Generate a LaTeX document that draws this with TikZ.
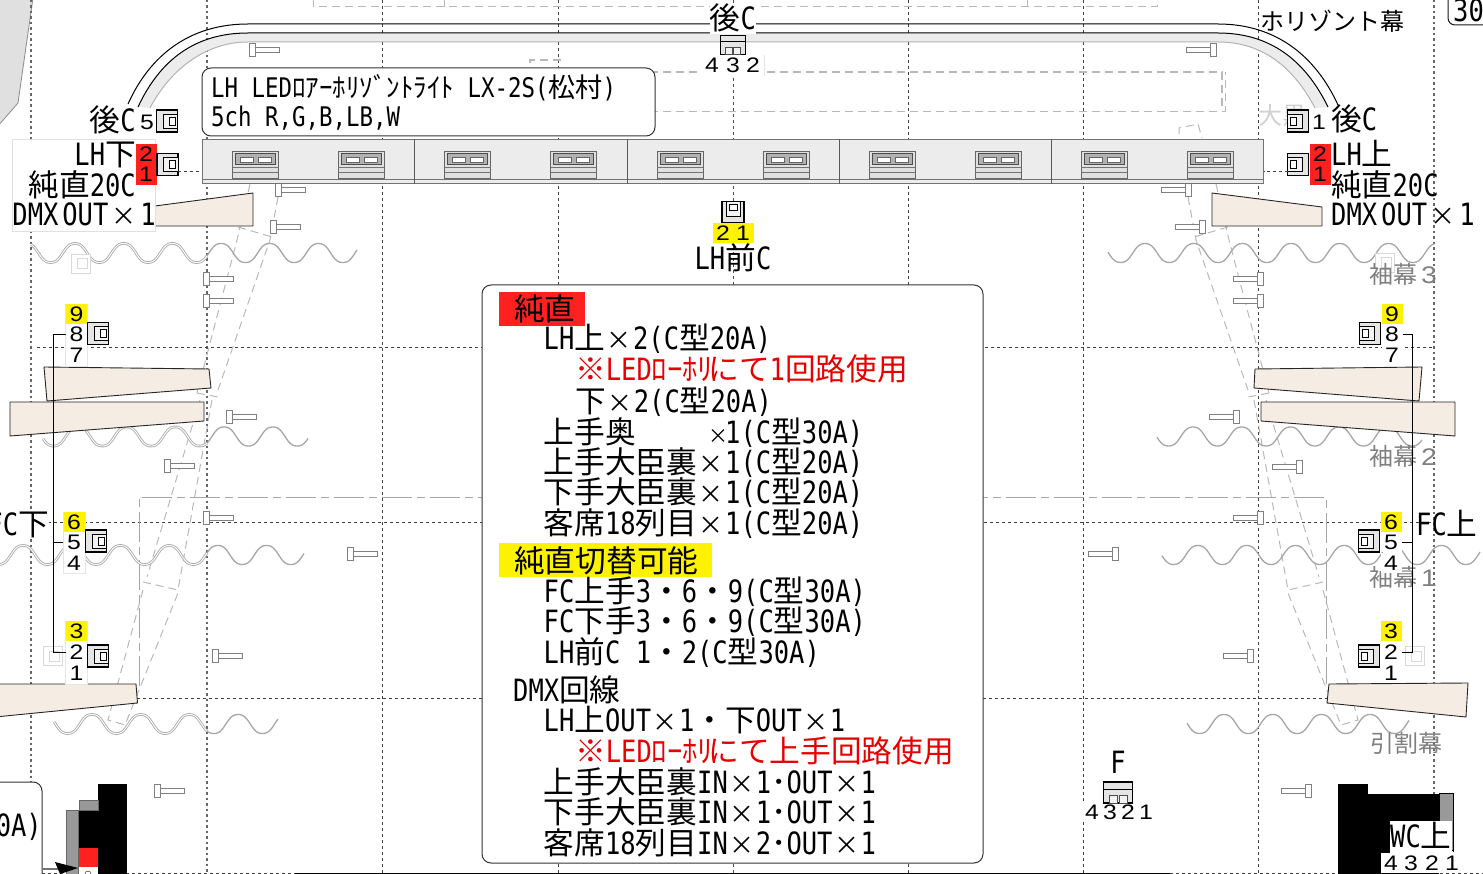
\documentclass[tikz,border=0pt]{standalone}
\usepackage{fontspec}
\newfontfamily\cjk{Noto Sans CJK JP}
\newfontfamily\lat[FakeStretch=0.83]{DejaVu Sans Mono}
\newfontfamily\num[FakeStretch=1.18]{Liberation Sans}
\newcommand{\La}[1]{{\lat #1}}
\newcommand{\X}{\makebox[28pt]{\fontsize{25}{25}\selectfont ×}}
\definecolor{beige}{HTML}{F5EDE4}
\definecolor{redbox}{HTML}{FF2020}
\definecolor{redtext}{HTML}{E60000}
\definecolor{barfill}{HTML}{ECECEC}
% one row of the stage curtains
\newcommand{\curtain}[5]{\draw[#1] plot[domain=#2:#3,samples=150] (\x,{#4-10.1*(cos((\x-#5)*7.392)-0.06*cos((\x-#5)*22.176))});}
\tikzset{
  griddash/.style={draw=black!75,line width=0.9pt,dash pattern=on 3pt off 3pt},
  griddot/.style={draw=black!60,line width=1.3pt,dash pattern=on 2.5pt off 3pt},
  wingdash/.style={draw=black!28,line width=1pt,dash pattern=on 8pt off 5pt},
  curtainline/.style={draw=black!35,line width=1.3pt},
  curtaindouble/.style={draw=black!32,line width=0.9pt,double=white,double distance=0.9pt},
  flat/.style={fill=beige,draw=black!85,line width=0.9pt,line join=round},
  roundbox/.style={draw=black!80,fill=white,line width=1pt,rounded corners=9pt,inner sep=0pt},
  big/.style={font=\fontsize{30.7}{31}\selectfont\cjk,inner sep=0pt,text height=26pt,text depth=4pt},
  mid/.style={font=\fontsize{27}{27}\selectfont\cjk,inner sep=0pt,text height=23pt,text depth=4pt},
  graytext/.style={font=\fontsize{24}{24}\selectfont\cjk,inner sep=0pt,text=black!50},
  digit/.style={font=\fontsize{21}{21}\selectfont\num,inner sep=0pt,text height=15pt,text depth=0pt,minimum width=21pt,minimum height=20.5pt,fill=white},
  yellowdigit/.style={digit,fill=yellow},
  reddigit/.style={digit,fill=redbox},
  numback/.style={fill=white,draw=black!10,line width=0.8pt},
  fixture/.pic={
    \draw[fill=black!10,line width=1.2pt] (-10.5,-11) rectangle (10.5,11);
    \draw[fill=black!5,line width=0.8pt] (-4,-7) rectangle (10.5,7);
    \draw[fill=white,line width=0.6pt] (2,-4) rectangle (8,4);
  },
  fourfix/.pic={
    \draw[fill=black!10,line width=1.2pt] (-14.5,-10.5) rectangle (14.5,10.5);
    \draw[line width=0.8pt] (-14.5,-3.5) -- (14.5,-3.5);
    \draw[draw=black!70,fill=black!5,line width=0.8pt] (-9,3) rectangle (-1,10.5);
    \draw[draw=black!70,fill=black!5,line width=0.8pt] (1,3) rectangle (9,10.5);
  },
  faintfix/.pic={
    \draw[draw=black!15,fill=white,line width=1.2pt] (-9.5,-9.5) rectangle (9.5,9.5);
    \draw[draw=black!15,line width=1pt] (-4,-5) rectangle (6,5);
  },
  ledunit/.pic={
    \draw[draw=black!60,fill=black!12,line width=0.9pt] (-23,-13.5) rectangle (23,13.5);
    \draw[draw=black!70,fill=black!30,line width=0.7pt] (-20,-11) rectangle (20,0);
    \draw[draw=black!60,fill=white,line width=0.6pt] (-15,-7.5) rectangle (-2,-2.5);
    \draw[draw=black!60,fill=white,line width=0.6pt] (3,-7.5) rectangle (16,-2.5);
    \draw[draw=black!55,line width=0.8pt] (-23,3) -- (23,3) (-23,7.5) -- (23,7.5);
  },
  bolt/.pic={
    \draw[draw=black!50,fill=white,line width=0.9pt] (0,-6.5) rectangle (6,6.5);
    \draw[draw=black!50,fill=white,line width=0.9pt] (6,-2.5) rectangle (30,2.5);
  },
  wings/.pic={
    \draw[wingdash] (250,184) -- (237,240) -- (197,393);
    \draw[wingdash] (278,197) -- (270,240) -- (218,390);
    \draw[wingdash] (238,227) -- (272,237);
    \draw[wingdash] (197,393) -- (218,397);
    \draw[wingdash] (200,400) -- (147,577);
    \draw[wingdash] (212,400) -- (178,590);
    \draw[wingdash] (143,582) -- (178,590);
    \draw[wingdash] (143,590) -- (108,720) -- (125,725) -- (178,593);
  },
}

\begin{document}
\begin{tikzpicture}[x=1pt,y=-1pt]
  \useasboundingbox (0,0) rectangle (1483,874);
  \clip (0,0) rectangle (1483,874);

  % wall in the top corner
  \draw[draw=black!45,fill=black!12,line width=0.8pt] (-2,-2) -- (33,-2) -- (18,103) -- (-2,126) -- cycle;

  % grid of the stage plan
  \foreach \x in {31,207,1434}
    \draw[griddot] (\x,0) -- (\x,874);
  \foreach \x in {382,558,908,1083,1258}
    \draw[griddash] (\x,0) -- (\x,874);
  \draw[griddash,draw=red] (733,0) -- (733,874);
  \draw[griddash] (37,347) -- (1434,347);
  \draw[griddash] (0,522) -- (1434,522);
  \draw[griddash] (137,698) -- (1330,698);
  \draw[griddash] (0,873) -- (1483,873);
  \draw[black,line width=1.5pt] (295,873.5) -- (1170,873.5);

  % dashed outlines behind the bar
  \draw[wingdash] (313,0) -- (313,7) -- (1157,7) -- (1157,0);
  \draw[wingdash] (444,0) -- (444,7) (1027,0) -- (1027,7);
  \draw[wingdash,line width=1.4pt] (530,63) -- (530,60) -- (561,60) -- (561,63);
  \draw[wingdash,line width=1.4pt] (650,72) -- (1222,72) -- (1222,111);
  \draw[wingdash,line width=0.8pt] (650,111) -- (1225,111) -- (1225,72);
  \draw[wingdash] (1179,134) -- (1179,128) -- (1198,124) -- (1202,138);
  \pic at (0,0) {wings};
  \pic[xscale=-1] at (1466,0) {wings};
  \draw[draw=black!35,line width=1pt,dash pattern=on 30pt off 5pt on 8pt off 5pt] (139,686) -- (139,497) -- (1326,497) -- (1326,684);

  % horizont rail
  \fill[barfill] (138,107) .. controls (160,60) and (195,33) .. (248,33) -- (1218,33) .. controls (1270,33) and (1305,60) .. (1328,107) -- (1315,108) .. controls (1295,70) and (1265,42) .. (1218,42) -- (248,42) .. controls (205,42) and (170,70) .. (150,108) -- cycle;
  \draw[draw=black!30,line width=1pt] (150,108) .. controls (170,70) and (205,42) .. (248,42) -- (1218,42) .. controls (1265,42) and (1295,70) .. (1315,108);
  \draw[black,line width=1pt] (128,104) .. controls (150,55) and (190,24) .. (248,24) -- (1218,24) .. controls (1275,24) and (1315,55) .. (1338,105);
  \draw[black,line width=1pt] (138,107) .. controls (160,60) and (195,33) .. (248,33) -- (1218,33) .. controls (1270,33) and (1305,60) .. (1328,107);

  % curtains
  \curtain{curtaindouble}{31}{207}{253}{75}
  \curtain{curtainline}{207}{357}{253}{75}
  \curtain{curtainline}{1108}{1434}{253}{1145}
  \curtain{curtaindouble}{43}{207}{436.5}{78}
  \curtain{curtainline}{207}{308}{436.5}{78}
  \curtain{curtainline}{1157}{1422}{436.5}{1193}
  \curtain{curtaindouble}{0}{207}{555}{23}
  \curtain{curtainline}{207}{304}{555}{23}
  \curtain{curtainline}{1162}{1480}{555}{1198}
  \curtain{curtaindouble}{54}{207}{724}{92}
  \curtain{curtainline}{207}{278}{724}{92}
  \curtain{curtainline}{1187}{1409}{724}{1224}

  % bolts, head on the left
  \foreach \x/\y in {249/50,275/190,270/227,203/279,203/301,226/417,164/466,203/518,347/554,212/656,154/791}
    \pic at (\x,\y) {bolt};
  % bolts, head on the right
  \foreach \x/\y in {1216/50,1191/190,1205/227,1263/279,1263/301,1239/417,1302/467,1263/518,1118/554,1253/656,1311/791}
    \pic[xscale=-1] at (\x,\y) {bolt};

  \pic at (81,264) {faintfix};
  \pic at (53,656) {faintfix};
  \pic at (1415,656) {faintfix};
  \pic at (1385,263) {faintfix};

  % flats
  \draw[flat] (155,206) -- (253,193) -- (253,226) -- (155,226) -- cycle;
  \draw[flat] (1212,193) -- (1322,207) -- (1322,226) -- (1212,226) -- cycle;
  \draw[flat] (44,367) -- (209,369) -- (211,388) -- (47,401) -- cycle;
  \draw[flat] (10,402) -- (204,402) -- (204,421) -- (10,436) -- cycle;
  \draw[flat] (1255,369) -- (1422,367) -- (1419,401) -- (1254,388) -- cycle;
  \draw[flat] (1261,402) -- (1455,402) -- (1455,436) -- (1261,421) -- cycle;
  \draw[flat] (-5,684) -- (136,684) -- (137.5,703) -- (-5,717) -- cycle;
  \draw[flat] (1329,684) -- (1468,683) -- (1466,717) -- (1327,703) -- cycle;

  % LED bar
  \node[draw=black!55,fill=barfill,line width=1pt,minimum width=1061pt,minimum height=44.5pt,inner sep=0pt] (ledbar) at (732.5,161.75) {};
  \draw[black!55,line width=1pt] (202,180) -- (1263,180);
  \foreach \x in {414.5,627,839,1051}
    \draw[black!65,line width=1pt] (\x,139.5) -- (\x,184);
  \foreach \x in {255.5,361,467.5,573.5,680,786,892,998,1104,1210}
    \pic at (\x,164.5) {ledunit};

  % labels at the back
  \node[roundbox,minimum width=453pt,minimum height=68pt] (ledbox) at (428.5,102) {};
  \node[mid,anchor=west] (ledname) at (211,88) {\La{LH~LED}ﾛｱｰﾎﾘｿﾞﾝﾄﾗｲﾄ\La{~LX-2S(}松村\La{)}};
  \node[mid,anchor=west] (ledch) at (211,117) {\La{5ch~R,G,B,LB,W}};
  \node[big,fill=white] (backtop) at (733,19) {後\La{C}};
  \node[graytext,text=black!18,anchor=west] (blackcurtain) at (1258,115) {大黒};
  \node[font=\fontsize{24}{24}\selectfont\cjk,inner sep=0pt,anchor=west] (horizont) at (1260,21) {ホリゾント幕};
  \node[draw=black!90,line width=1pt,rounded corners=7pt,minimum width=50pt,minimum height=40pt] (boxthree) at (1473,5) {};
  \node[big,anchor=west] (threeh) at (1453,11) {\La{300}};

  % left labels
  \node[fill=white,draw=black!12,minimum width=143pt,minimum height=91.5pt,inner sep=0pt] (leftlabel) at (83.5,185.25) {};
  \node[big,anchor=east] (lhlow) at (136,155) {\La{LH}下};
  \node[big,anchor=east] (lhlowa) at (136,186) {純直\La{20C}};
  \node[big,anchor=east] (lhlowb) at (156,215) {\La{DMX}\hspace{4pt}\La{OUT}\hspace{2pt}\X\hspace{2pt}\La{1}};
  \node[big,fill=white,anchor=east] (backleft) at (136,121) {後\La{C}};
  \node[big,anchor=west] (lhup) at (1331,155) {\La{LH}上};
  \node[big,anchor=west] (lhupa) at (1331,186) {純直\La{20C}};
  \node[big,anchor=west] (lhupb) at (1331,215) {\La{DMX}\hspace{4pt}\La{OUT}\hspace{2pt}\X\hspace{2pt}\La{1}};
  \node[big,anchor=west] (backright) at (1331,120) {後\La{C}};
  \node[big,fill=white,anchor=east] (fclow) at (49,524) {\La{FC}下};
  \node[big,anchor=west] (fcup) at (1416,524) {\La{FC}上};
  \node[big] (lhfront) at (733,259) {\La{LH}前\La{C}};
  \node[big] (fname) at (1118,762) {\La{F}};

  % curtain names
  \node[graytext,anchor=west] (sleevethree) at (1369,274) {袖幕\,\num 3};
  \node[graytext,anchor=west] (sleevetwo) at (1369,456) {袖幕\,\num 2};
  \node[graytext,anchor=west] (sleeveone) at (1369,577) {袖幕\,\num 1};
  \node[graytext,anchor=west] (splitcurtain) at (1370,743) {引割幕};

  % circuit numbers
  \draw[numback] (702,55) rectangle (764,75.5);
  \draw[numback] (65.5,304) rectangle (87.5,366);
  \draw[numback] (63,512) rectangle (85,573);
  \draw[numback] (65.5,621) rectangle (87.5,684);
  \foreach \nm/\d/\x/\y in {b4/4/712/65.5,b3/3/733/65.5,b2/2/753/65.5,c5/5/147/122,c1/1/1319/122,
      L8/8/76.5/334.5,L7/7/76.5/355,L5/5/74/542,L4/4/74/562.5,L2/2/76.5/652,L1/1/76.5/673,
      R8/8/1392/334.5,R7/7/1392/355,R5/5/1391/542,R4/4/1391/563,R2/2/1391/652,R1/1/1391/673,
      f4/4/1092/812,f3/3/1110/812,f2/2/1128/812,f1/1/1146/812}
    \node[digit] (\nm) at (\x,\y) {\d};
  \foreach \nm/\d/\x/\y in {L9/9/76.5/314,L6/6/74/522,L3/3/76.5/631,R9/9/1392/314,R6/6/1391/522,R3/3/1391/631,fr2/2/723/233,fr1/1/743/233}
    \node[yellowdigit] (\nm) at (\x,\y) {\d};
  \foreach \nm/\d/\x/\y in {la2/2/146/154,la1/1/146/174.5,ra2/2/1320/154,ra1/1/1320/174.5}
    \node[reddigit] (\nm) at (\x,\y) {\d};

  % fixtures
  \pic at (167,121) {fixture};
  \pic at (167.5,164.5) {fixture};
  \pic at (98,333.5) {fixture};
  \pic at (96,541) {fixture};
  \pic at (98,656) {fixture};
  \pic[xscale=-1] at (1298,121) {fixture};
  \pic[xscale=-1] at (1298,164.5) {fixture};
  \pic[xscale=-1] at (1370,333.5) {fixture};
  \pic[xscale=-1] at (1369,541) {fixture};
  \pic[xscale=-1] at (1369,656) {fixture};
  \pic[yscale=0.9,xscale=0.85] at (733,45) {fourfix};
  \pic[rotate=90] at (733,212) {fixture};
  \pic at (1118,792.5) {fourfix};

  % fixture to bar
  \coordinate (lstub) at (178,171);
  \coordinate (rstub) at (1288,171);
  \draw[griddash] (lstub) -- (ledbar.west |- lstub);
  \draw[griddash] (rstub) -- (ledbar.east |- rstub);

  % FC bus on each side
  \coordinate (lbus) at (53.5,0);
  \coordinate (rbus) at (1412.5,0);
  \draw[black,line width=1pt] (L8.west) -- (L8.west -| lbus) -- (L2.west -| lbus) -- (L2.west);
  \draw[black,line width=1pt] (L5.west) -- (L5.west -| lbus);
  \draw[black,line width=1pt] (R8.east) -- (R8.east -| rbus) -- (R2.east -| rbus) -- (R2.east);
  \draw[black,line width=1pt] (R5.east) -- (R5.east -| rbus);

  % main list
  \node[roundbox,minimum width=501pt,minimum height=578pt] (mainbox) at (732.5,574) {};
  \node[fill=redbox,minimum width=86pt,minimum height=34pt,inner sep=0pt] (purehead) at (542,309) {};
  \node[big,anchor=west] (puretext) at (514,310) {純直};
  \node[fill=yellow,minimum width=213pt,minimum height=34pt,inner sep=0pt] (switchhead) at (605.5,560) {};
  \node[big,anchor=west] (switchtext) at (514,561) {純直切替可能};
  \foreach \nm/\x/\y/\txt in {
      a1/543.5/339/{\La{LH}上\X\La{2(C}型\La{20A)}},
      a3/575/401/{下\X\La{2(C}型\La{20A)}},
      a4/543.5/432/{上手奥　　\makebox[28pt]{\hspace{14pt}\fontsize{20}{20}\selectfont ×}\La{1(C}型\La{30A)}},
      a5/543.5/462/{上手大臣裏\X\La{1(C}型\La{20A)}},
      a6/543.5/492.5/{下手大臣裏\X\La{1(C}型\La{20A)}},
      a7/543.5/523/{客席\La{18}列目\X\La{1(C}型\La{20A)}},
      s1/543.5/591/{\La{FC}上手\La{3}・\La{6}・\La{9(C}型\La{30A)}},
      s2/543.5/621.5/{\La{FC}下手\La{3}・\La{6}・\La{9(C}型\La{30A)}},
      s3/543.5/652.5/{\La{LH}前\La{C~1}・\La{2(C}型\La{30A)}},
      d0/513/690/{\La{DMX}回線},
      d1/543.5/720/{\La{LH}上\La{OUT}\X\La{1}・下\La{OUT}\X\La{1}},
      d3/543.5/782/{上手大臣裏\La{IN}\X\La{1}･\La{OUT}\X\La{1}},
      d4/543.5/812/{下手大臣裏\La{IN}\X\La{1}･\La{OUT}\X\La{1}},
      d5/543.5/843/{客席\La{18}列目\La{IN}\X\La{2}･\La{OUT}\X\La{1}}}
    \node[big,anchor=west] (\nm) at (\x,\y) {\txt};
  \node[big,text=redtext,anchor=west] (a2) at (575,370) {※\La{LED}ﾛｰﾎﾘ\kern-5ptにて\La{1}回路使用};
  \node[big,text=redtext,anchor=west] (d2) at (575,751) {※\La{LED}ﾛｰﾎﾘ\kern-5ptにて上手回路使用};

  % bottom left stack
  \node[roundbox,minimum width=100pt,minimum height=130pt] (lowbox) at (-8,847) {};
  \node[big,anchor=east] (lowtext) at (42,825) {\La{20A)}};
  \draw[black!55,line width=1.5pt] (42,869) -- (66,869);
  \fill[black] (98,784) rectangle (127,874);
  \fill[black] (78,810) rectangle (98,874);
  \draw[black!60,fill=black!40] (79,800) rectangle (98,810);
  \draw[black!60,fill=black!40] (66,810) rectangle (78,874);
  \fill[redbox] (78.5,848) rectangle (98,867);
  \fill[black] (55,862) -- (78,868) -- (60,874) -- cycle;
  \fill[white] (78.5,867) rectangle (98,874);
  \draw[black] (88,874) circle (3);

  % bottom right stack
  \fill[black] (1338,784) rectangle (1368,800);
  \fill[black] (1338,794) rectangle (1439,874);
  \draw[black,fill=black!40] (1439,793.5) rectangle (1453,850);
  \node[fill=white,minimum width=62pt,minimum height=32pt,inner sep=0pt] (wcback) at (1421,837) {};
  \node[big,anchor=west] (wcname) at (1390,836) {\La{WC}上};
  \draw[black] (1453,822) -- (1453,852);
  \foreach \nm/\d/\x in {w4/4/1391,w3/3/1411,w2/2/1432,w1/1/1452}
    \node[digit] (\nm) at (\x,863) {\d};
\end{tikzpicture}
\end{document}
